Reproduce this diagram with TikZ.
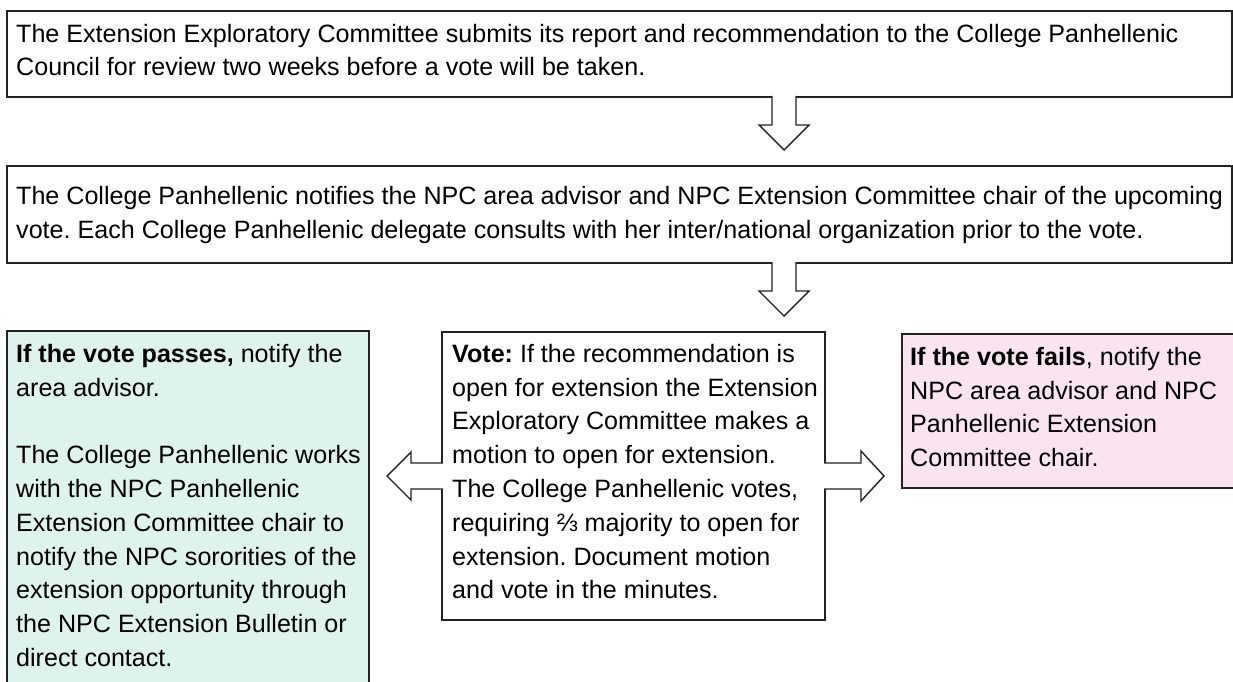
\documentclass[tikz,border=0pt]{standalone}
\usepackage{fontspec}
\setmainfont{Liberation Sans}
\usetikzlibrary{calc}
\definecolor{passfill}{HTML}{DEF3EE}
\definecolor{failfill}{HTML}{F9E4EF}
\definecolor{edge}{HTML}{222222}
\newcommand\fstrut{\rule{0pt}{24pt}}
\frenchspacing
\begin{document}
\begin{tikzpicture}[x=1pt,y=-1pt,
  box/.style={draw=edge, line width=1.4pt, inner sep=0pt, outer sep=0pt, anchor=north west},
  txt/.style={anchor=north west, inner sep=0pt, align=left, font=\fontsize{25.1}{33.8}\selectfont\frenchspacing, text=black},
  blk/.style={draw=edge, line width=1.4pt, fill=white, line join=miter}]
\useasboundingbox (0,0) rectangle (1233,682);
\fill[white] (0,0) rectangle (1233,682);
% boxes
\node[box, minimum width=1225pt, minimum height=86pt] (b1) at (7,11) {};
\node[box, minimum width=1225pt, minimum height=97pt] (b2) at (7,166) {};
\node[box, fill=passfill, minimum width=362pt, minimum height=380pt] (bp) at (7,331) {};
\node[box, minimum width=383pt, minimum height=288pt] (bv) at (442,332) {};
\node[box, fill=failfill, minimum width=340pt, minimum height=154pt] (bf) at (902,334) {};
% texts
\node[txt] (b1t) at (16,18) {\fstrut The Extension Exploratory Committee submits its report and recommendation to the College Panhellenic\\Council for review two weeks before a vote will be taken.};
\node[txt] (b2t) at (16,180) {\fstrut The College Panhellenic notifies the NPC area advisor and NPC Extension Committee chair of the upcoming\\vote. Each College Panhellenic delegate consults with her inter/national organization prior to the vote.};
\node[txt] (bpt) at (16,338) {\fstrut\textbf{If the vote passes,} notify the\\area advisor.\\[33.8pt]The College Panhellenic works\\with the NPC Panhellenic\\Extension Committee chair to\\notify the NPC sororities of the\\extension opportunity through\\the NPC Extension Bulletin or\\direct contact.};
\node[txt] (bvt) at (452,338) {\fstrut\textbf{Vote:} If the recommendation is\\open for extension the Extension\\Exploratory Committee makes a\\motion to open for extension.\\The College Panhellenic votes,\\requiring ⅔ majority to open for\\extension. Document motion\\and vote in the minutes.};
\node[txt] (bft) at (910,341) {\fstrut\textbf{If the vote fails}, notify the\\NPC area advisor and NPC\\Panhellenic Extension\\Committee chair.};
% block arrows
\coordinate (ax) at (784,0);
\draw[blk] ($(ax |- b1.south)+(-12,-1)$) -- ++(0,29) -- ++(-13,0) -- ++(25,25) -- ++(25,-25) -- ++(-13,0) -- ++(0,-29);
\draw[blk] ($(ax |- b2.south)+(-12,-1)$) -- ++(0,29) -- ++(-13,0) -- ++(25,25) -- ++(25,-25) -- ++(-13,0) -- ++(0,-29);
\draw[blk] ($(bv.west)+(1,-13)$) -- ++(-32,0) -- ++(0,-11) -- ++(-24,24) -- ++(24,24) -- ++(0,-11) -- ++(32,0);
\draw[blk] ($(bv.east)+(-1,-13)$) -- ++(37,0) -- ++(0,-12) -- ++(23,25) -- ++(-23,25) -- ++(0,-12) -- ++(-37,0);
\end{tikzpicture}
\end{document}
